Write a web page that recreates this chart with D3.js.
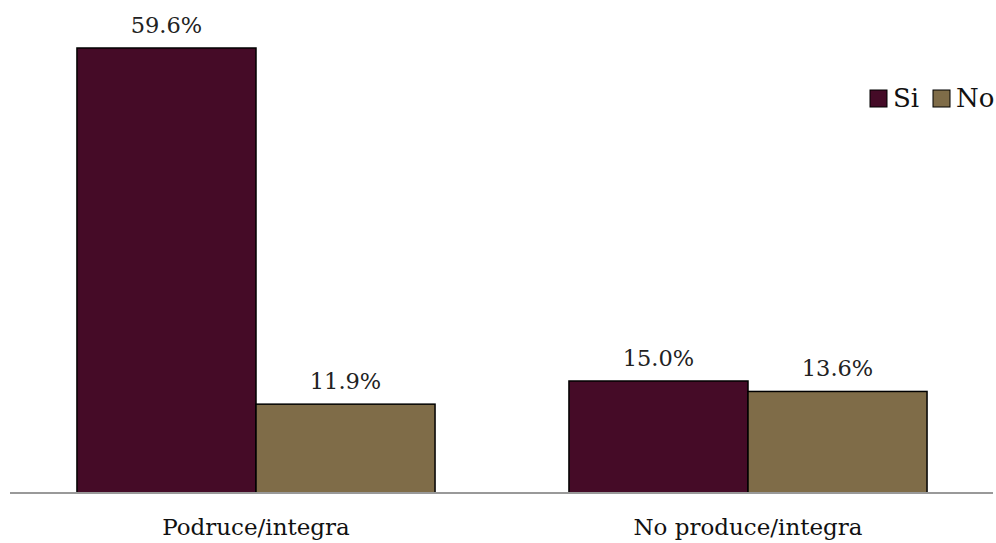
<!DOCTYPE html>
<html><head><meta charset="utf-8">
<script src="https://cdn.jsdelivr.net/npm/d3@7"></script>
<style>body{margin:0;background:#fff}svg{display:block}</style>
</head><body>
<svg id="c" width="996" height="543"></svg>
<script>
const categories = ["Podruce/integra", "No produce/integra"];
const seriesNames = ["Si", "No"];
const siValues = [59.6, 15.0];
const noValues = [11.9, 13.6];
const colors = ["#450b27", "#7f6c48"];

const font = "DejaVu Serif";
const svg = d3.select("#c");
const baseY = 493;
const x0 = d3.scaleBand().domain(categories).range([10, 994]).paddingInner(0).paddingOuter(0);
const x1 = d3.scaleBand().domain(seriesNames).range([0, x0.bandwidth()]).paddingInner(0).paddingOuter(0.374);
const y = d3.scaleLinear().domain([0, 59.6]).range([baseY, 48]);

const data = categories.map((c, i) => ({cat: c, vals: [siValues[i], noValues[i]]}));

const g = svg.selectAll("g.cat").data(data).join("g")
  .attr("transform", d => `translate(${x0(d.cat)},0)`);

g.selectAll("rect").data(d => d.vals.map((v, j) => ({v, s: seriesNames[j], j}))).join("rect")
  .attr("x", d => x1(d.s))
  .attr("y", d => y(d.v))
  .attr("width", x1.bandwidth())
  .attr("height", d => baseY - y(d.v))
  .attr("fill", d => colors[d.j])
  .attr("stroke", "#000").attr("stroke-width", 1.5);

g.selectAll("text.val").data(d => d.vals.map((v, j) => ({v, s: seriesNames[j]}))).join("text")
  .attr("class", "val")
  .attr("x", d => x1(d.s) + x1.bandwidth() / 2)
  .attr("y", d => y(d.v) - 15)
  .attr("text-anchor", "middle")
  .style("font-family", font).style("font-size", "22.5px").attr("fill", "#222")
  .text(d => d.v.toFixed(1) + "%");

// axis line
svg.append("line").attr("x1", 10).attr("x2", 993).attr("y1", baseY).attr("y2", baseY)
  .attr("stroke", "#999").attr("stroke-width", 2);

const xAxis = d3.axisBottom(x0).tickSize(0).tickPadding(0);
const ax = svg.append("g").attr("transform", `translate(0,${baseY})`).call(xAxis);
ax.select(".domain").remove();
ax.selectAll("text").style("font-family", font).style("font-size", "23px").attr("fill", "#111")
  .attr("dy", 0).attr("y", 42);

// legend
const leg = svg.append("g");
const legX = [870, 933];
seriesNames.forEach((s, i) => {
  leg.append("rect").attr("x", legX[i]).attr("y", 90).attr("width", 17).attr("height", 17)
    .attr("fill", colors[i]).attr("stroke", "#000").attr("stroke-width", 1);
  leg.append("text").attr("x", legX[i] + 23).attr("y", 107)
    .style("font-family", font).style("font-size", "26px").attr("fill", "#111").text(s);
});
</script>
</body></html>
